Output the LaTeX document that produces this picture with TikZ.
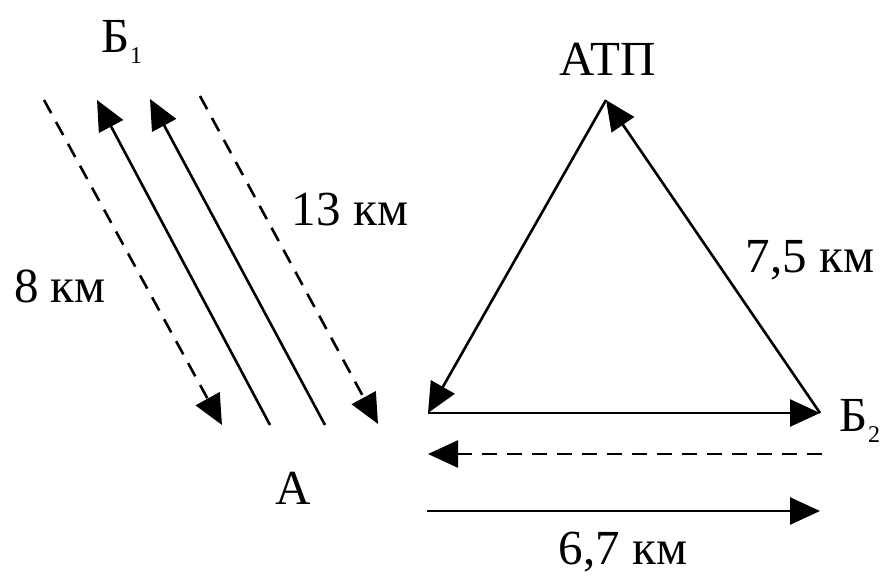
\documentclass[tikz,border=0pt]{standalone}
\usepackage{fontspec}
\setmainfont{Liberation Serif}
\usetikzlibrary{arrows.meta}
\newcommand{\mysub}[1]{\raisebox{-0.22em}{\fontsize{24}{26}\selectfont #1}}
\begin{document}
\begin{tikzpicture}[x=1pt,y=-1pt,
  line width=2.6pt,
  tip/.style={-{Triangle[length=30pt,width=27pt]}},
  dsh/.style={dash pattern=on 15pt off 10pt},
  lbl/.style={font=\fontsize{49}{52}\selectfont, inner sep=0pt}]
\useasboundingbox (0,0) rectangle (885,577);
% left group
\coordinate (d1s) at (44,100);  \coordinate (d1e) at (222,425);
\coordinate (s2s) at (270,425); \coordinate (s2e) at (97,100);
\coordinate (s3s) at (325,425); \coordinate (s3e) at (150,99);
\coordinate (d4s) at (200,96);  \coordinate (d4e) at (378,424);
\draw[tip,dsh] (d1s) -- (d1e);
\draw[tip] (s2s) -- (s2e);
\draw[tip] (s3s) -- (s3e);
\draw[tip,dsh] (d4s) -- (d4e);
\node[lbl] (b1) at (122,42) {Б\mysub{1}};
\node[lbl] (l13) at (350,210) {13 км};
\node[lbl] (l8) at (60,286) {8 км};
\node[lbl] (a) at (293,488) {А};
% triangle
\coordinate (apex) at (606,100);
\coordinate (lv) at (428,413);
\coordinate (rv) at (820,413);
\draw[tip] (apex) -- (lv);
\draw[tip] (rv) -- (apex);
\draw[tip] (lv) -- (rv);
\coordinate (ds) at (822,454); \coordinate (de) at (428,454);
\draw[tip,dsh] (ds) -- (de);
\coordinate (bs) at (427,511); \coordinate (be) at (820,511);
\draw[tip] (bs) -- (be);
\node[lbl] (atp) at (608,59) {АТП};
\node[lbl] (l75) at (810,260) {7,5 км};
\node[lbl] (b2) at (860,421) {Б\mysub{2}};
\node[lbl] (l67) at (623,552) {6,7 км};
\end{tikzpicture}
\end{document}
